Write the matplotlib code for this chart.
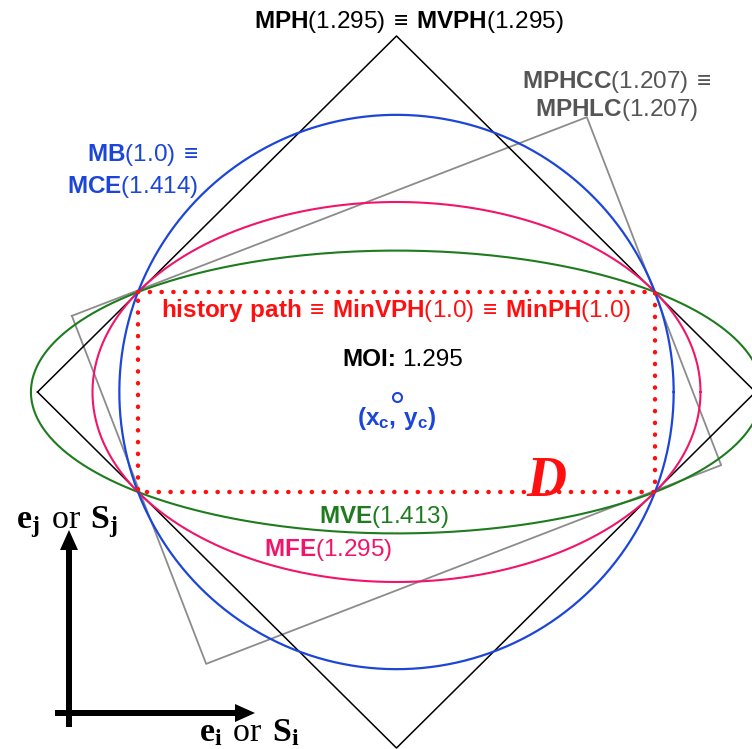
import numpy as np
import matplotlib
matplotlib.use("Agg")
import matplotlib.pyplot as plt

plt.rcParams['mathtext.fontset'] = 'custom'
plt.rcParams['mathtext.rm'] = 'Liberation Sans'
plt.rcParams['mathtext.bf'] = 'Liberation Sans:bold'
plt.rcParams['mathtext.sf'] = 'Liberation Serif'
plt.rcParams['mathtext.tt'] = 'Liberation Serif:bold'
plt.rcParams['font.family'] = ['Liberation Sans', 'DejaVu Sans']

# shape names and the ratio printed next to each one
mph, mvph = 1.295, 1.295
mphcc, mphlc = 1.207, 1.207
mb, mce = 1.0, 1.414
mve = 1.413
mfe = 1.295
minvph, minph = 1.0, 1.0
moi = 1.295

# history path box D (pixel units of the drawing), centre and half sizes
cx, cy = 396.5, 392.0
hw, hh = 258.5, 100.0
point_c = (397, 397)

# extra shape parameters
mfe_b = 190.0                 # half height of the MFE ellipse
mph_a, mph_b = 359.0, 356.0   # half diagonals of the MPH diamond
mphcc_len, mphcc_wid = 552.0, 373.0
mphcc_angle = 21.1            # degrees

BLUE = '#1c46d8'
PINK = '#f2146a'
GREEN = '#1e7b1e'
GRAY = '#8c8c8c'
GTXT = '#555555'
RED = '#ff1010'
EQ = r'\,{\equiv}\,'

fig = plt.figure(figsize=(7.52, 7.49), dpi=100)
ax = fig.add_axes([0, 0, 1, 1])
ax.set_xlim(0, 752)
ax.set_ylim(749, 0)
ax.axis('off')

t = np.linspace(0, 2 * np.pi, 400)

# MPHCC rotated rectangle
th = np.radians(mphcc_angle)
u = np.array([np.cos(th), -np.sin(th)])
v = np.array([np.sin(th), np.cos(th)])
c = np.array([cx, cy - 1.5])
pts = [c - mphcc_len / 2 * u - mphcc_wid / 2 * v,
       c + mphcc_len / 2 * u - mphcc_wid / 2 * v,
       c + mphcc_len / 2 * u + mphcc_wid / 2 * v,
       c - mphcc_len / 2 * u + mphcc_wid / 2 * v]
pts.append(pts[0])
pts = np.array(pts)
ax.plot(pts[:, 0], pts[:, 1], color=GRAY, lw=1.3)

# MPH diamond
ax.plot([cx - mph_a, cx, cx + mph_a, cx, cx - mph_a],
        [cy, cy - mph_b, cy, cy + mph_b, cy], color='black', lw=1.1)

# MVE ellipse
ax.plot(cx + np.sqrt(2) * hw * np.cos(t), cy + np.sqrt(2) * hh * np.sin(t),
        color=GREEN, lw=1.5)

# MFE ellipse
mfe_a = hw / np.sqrt(1 - (hh / mfe_b) ** 2)
ax.plot(cx + mfe_a * np.cos(t), cy + mfe_b * np.sin(t), color=PINK, lw=1.5)

# MB circle
r = np.hypot(hw, hh)
ax.plot(cx + r * np.cos(t), cy + r * np.sin(t), color=BLUE, lw=1.6)

# history path D
ax.plot([cx - hw, cx + hw, cx + hw, cx - hw, cx - hw],
        [cy - hh, cy - hh, cy + hh, cy + hh, cy - hh],
        color=RED, lw=3.2, linestyle=(0, (0.05, 2.6)),
        dash_capstyle='round', zorder=5)

ax.plot(*point_c, 'o', mfc='white', mec=BLUE, ms=6.5, mew=1.5, zorder=6)

fs = 17.5
ax.text(409, 22, r'$\mathbf{MPH}\mathrm{(%s)}%s\mathbf{MVPH}\mathrm{(%s)}$' % (mph, EQ, mvph),
        ha='center', va='center', fontsize=fs, color='black')
ax.text(617, 82, r'$\mathbf{MPHCC}\mathrm{(%s)}%s$' % (mphcc, EQ),
        ha='center', va='center', fontsize=fs, color=GTXT)
ax.text(617, 110, r'$\mathbf{MPHLC}\mathrm{(%s)}$' % mphlc,
        ha='center', va='center', fontsize=fs, color=GTXT)
ax.text(198, 155, r'$\mathbf{MB}\mathrm{(%s)}%s$' % (mb, EQ),
        ha='right', va='center', fontsize=fs, color=BLUE)
ax.text(198, 187, r'$\mathbf{MCE}\mathrm{(%s)}$' % mce,
        ha='right', va='center', fontsize=fs, color=BLUE)
ax.text(396, 310, r'$\mathbf{history\ path}%s\mathbf{MinVPH}\mathrm{(%s)}%s\mathbf{MinPH}\mathrm{(%s)}$'
        % (EQ, minvph, EQ, minph), ha='center', va='center', fontsize=fs, color=RED)
ax.text(396, 360, 'MOI:', weight='bold', ha='right', va='center',
        fontsize=fs, color='black')
ax.text(402, 360, str(moi), ha='left', va='center', fontsize=fs, color='black')
ax.text(397, 418, r'$\mathbf{(x_c{,}\ y_c)}$',
        ha='center', va='center', fontsize=fs, color=BLUE)
ax.text(546, 482, 'D', family='Liberation Serif', style='italic', weight='bold',
        ha='center', va='center', fontsize=40, color=RED)
ax.text(384, 517, r'$\mathbf{MVE}\mathrm{(%s)}$' % mve,
        ha='center', va='center', fontsize=fs, color=GREEN)
ax.text(328, 550, r'$\mathbf{MFE}\mathrm{(%s)}$' % mfe,
        ha='center', va='center', fontsize=fs, color=PINK)

# coordinate axes
ax.arrow(69, 727, 0, -197, width=6, head_width=18, head_length=20,
         length_includes_head=True, fc='black', ec='none')
ax.arrow(55, 713, 200, 0, width=6, head_width=18, head_length=20,
         length_includes_head=True, fc='black', ec='none')
ax.text(67, 528, r'$\mathtt{e_j}\ \mathsf{or}\ \mathtt{S_j}$',
        ha='center', va='baseline', fontsize=24.5, color='black')
ax.text(249, 741, r'$\mathtt{e_i}\ \mathsf{or}\ \mathtt{S_i}$',
        ha='center', va='baseline', fontsize=24.5, color='black')

fig.savefig('out.png', dpi=100)
